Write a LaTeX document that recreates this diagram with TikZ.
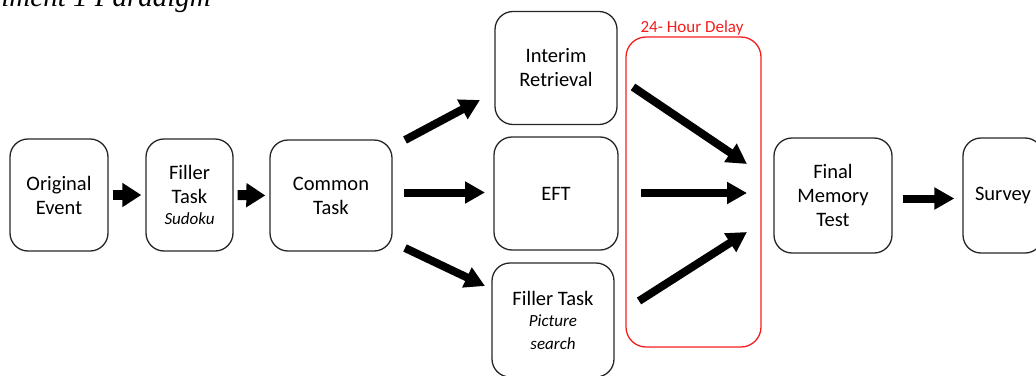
\documentclass[tikz,border=0pt]{standalone}
\usepackage{fontspec}
\setmainfont{Carlito}
\newfontfamily\titlefont{Liberation Serif}
\usetikzlibrary{arrows.meta}
\definecolor{delayred}{RGB}{245,30,30}
\tikzset{
  box/.style={draw=black!85, line width=1.3pt, rounded corners=18pt, align=center,
    font=\fontsize{20.5}{24}\selectfont, inner sep=0pt},
  bigarrow/.style={line width=8pt, -{Triangle[length=20pt,width=21pt]}},
  smallarrow/.style={line width=10pt, -{Triangle[length=19pt,width=23pt]}}
}
\newcommand{\subtxt}[1]{{\fontsize{17}{21}\selectfont\itshape #1}}
\begin{document}
\begin{tikzpicture}[x=1pt,y=-1pt]
\useasboundingbox (0,0) rectangle (1036,375);
\clip (0,0) rectangle (1036,375);
% title (cut off at the page edge, as in the reference)
\node[anchor=base east, inner sep=0pt, font=\titlefont\itshape\fontsize{29}{30}\selectfont] (title) at (211,6) {Experiment 1 Paradigm};
% boxes
\node[box, minimum width=98pt, minimum height=112pt] (orig) at (59,195) {Original\\Event};
\node[box, minimum width=87pt, minimum height=112pt] (fill1) at (189.5,195) {Filler\\Task\\[-3pt]\subtxt{Sudoku}};
\node[box, minimum width=122pt, minimum height=111pt] (common) at (331,195.5) {Common\\Task};
\node[box, minimum width=122pt, minimum height=113pt] (interim) at (556,68) {Interim\\Retrieval};
\node[box, minimum width=124pt, minimum height=113pt] (eft) at (556,193.5) {EFT};
\node[box, minimum width=122pt, minimum height=114pt] (fill2) at (553,320) {Filler Task\\[-3pt]\subtxt{Picture}\\[-1pt]\subtxt{search}};
\node[box, minimum width=118pt, minimum height=115pt] (final) at (833,195.5) {Final\\Memory\\Test};
\node[box, minimum width=80pt, minimum height=115pt] (survey) at (1003,195.5) {Survey};
% delay box
\node[draw=delayred, line width=1.3pt, rounded corners=20pt, minimum width=135pt, minimum height=310pt, inner sep=0pt] (delay) at (693.5,192) {};
\node[text=delayred, font=\fontsize{17}{20}\selectfont, anchor=base, inner sep=0pt] (delaylabel) at (692,32) {24- Hour Delay};
% arrow end points
\coordinate (c1s) at (405,140);
\coordinate (c1e) at (480,100);
\coordinate (c2s) at (404,192.5);
\coordinate (c2e) at (485,192.5);
\coordinate (c3s) at (405,248);
\coordinate (c3e) at (485,286);
\coordinate (d1s) at (633,87);
\coordinate (d1e) at (747,164);
\coordinate (d2s) at (641,193);
\coordinate (d2e) at (747,193);
\coordinate (d3s) at (639,301);
\coordinate (d3e) at (747,232);
% arrows
\draw[smallarrow, shorten <=4pt, shorten >=4pt] (orig.east) -- (fill1.west);
\draw[smallarrow, shorten <=4pt, shorten >=4pt] (fill1.east) -- (common.west);
\draw[bigarrow] (c1s) -- (c1e);
\draw[bigarrow] (c2s) -- (c2e);
\draw[bigarrow] (c3s) -- (c3e);
\draw[bigarrow] (d1s) -- (d1e);
\draw[bigarrow] (d2s) -- (d2e);
\draw[bigarrow] (d3s) -- (d3e);
\draw[bigarrow, shorten <=10pt, shorten >=8pt] ([yshift=-3pt]final.east) -- ([yshift=-3pt]survey.west);
\end{tikzpicture}
\end{document}
